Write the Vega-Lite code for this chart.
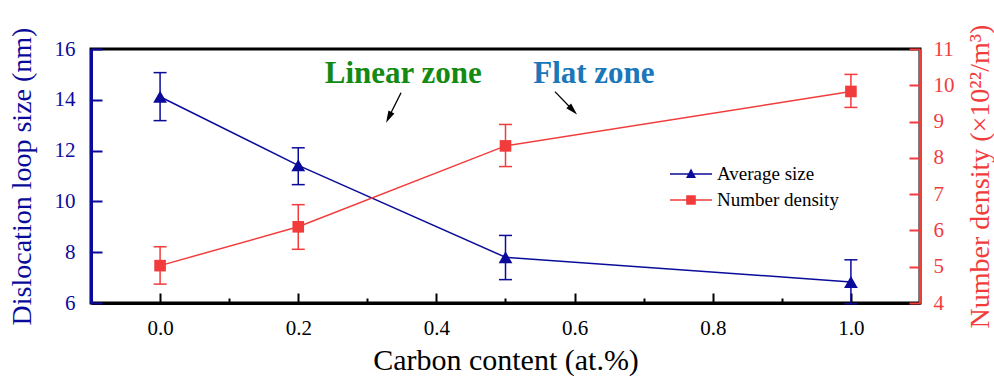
{
  "$schema": "https://vega.github.io/schema/vega-lite/v6.json",
  "width": 829,
  "height": 254,
  "autosize": {"type": "none"},
  "padding": {"left": 91, "top": 49, "right": 74, "bottom": 73},
  "background": "white",
  "config": {
    "font": "Liberation Serif",
    "view": {"stroke": "black", "strokeWidth": 3},
    "axis": {"grid": false, "labelFont": "Liberation Serif", "titleFont": "Liberation Serif", "titleFontWeight": "normal", "labelOverlap": false, "labelFlush": false, "labelBound": false}
  },
  "datasets": {
    "size": [
      {"c": 0.0, "v": 14.12, "lo": 13.18, "hi": 15.07},
      {"c": 0.2, "v": 11.42, "lo": 10.66, "hi": 12.11},
      {"c": 0.5, "v": 7.8, "lo": 6.92, "hi": 8.66},
      {"c": 1.0, "v": 6.83, "lo": 5.97, "hi": 7.7}
    ],
    "density": [
      {"c": 0.0, "v": 5.03, "lo": 4.52, "hi": 5.55},
      {"c": 0.2, "v": 6.1, "lo": 5.48, "hi": 6.71},
      {"c": 0.5, "v": 8.33, "lo": 7.76, "hi": 8.92},
      {"c": 1.0, "v": 9.83, "lo": 9.39, "hi": 10.3}
    ],
    "arrows": [
      {"id": "a", "c": 0.3488, "v": 14.28, "c2": 0.331, "v2": 13.31},
      {"id": "b", "c": 0.5716, "v": 14.32, "c2": 0.5975, "v2": 13.59}
    ],
    "notes": [
      {"id": "linear", "c": 0.352, "v": 14.68, "label": "Linear zone"},
      {"id": "flat", "c": 0.628, "v": 14.68, "label": "Flat zone"}
    ]
  },
  "resolve": {"scale": {"y": "independent"}},
  "layer": [
    {
      "layer": [
        {
          "data": {"name": "size"},
          "mark": {"type": "line", "color": "#0b0b9b", "strokeWidth": 1.5},
          "encoding": {
            "x": {
              "field": "c", "type": "quantitative",
              "scale": {"domain": [-0.1, 1.1], "nice": false, "zero": false},
              "axis": {
                "title": "Carbon content (at.%)",
                "titleFontSize": 30, "titleColor": "black", "titlePadding": 2,
                "values": [0, 0.1, 0.2, 0.3, 0.4, 0.5, 0.6, 0.7, 0.8, 0.9, 1.0],
                "format": ".1f",
                "labelExpr": "abs(datum.value*10 - round(datum.value*10)) < 0.001 && round(datum.value*10) % 2 == 0 ? datum.label : ''",
                "labelOverlap": false,
                "labelFontSize": 21, "labelColor": "black", "labelPadding": 24,
                "domainColor": "black", "domainWidth": 3,
                "tickColor": "black", "tickWidth": 2,
                "tickSize": {"condition": {"test": "abs(datum.value*10 - round(datum.value*10)) < 0.001 && round(datum.value*10) % 2 == 0", "value": -10}, "value": -5}
              }
            },
            "y": {
              "field": "v", "type": "quantitative",
              "scale": {"domain": [6, 16], "nice": false, "zero": false},
              "axis": {
                "title": "Dislocation loop size (nm)",
                "titleFontSize": 28, "titleColor": "#0b0b9b", "titlePadding": 18,
                "values": [6, 7.001, 8, 9.001, 10, 11.001, 12, 13.001, 14, 15.001, 16],
                "format": "d",
                "labelExpr": "abs(datum.value*10 - round(datum.value*10)) < 0.001 && round(datum.value*10) % 2 == 0 ? datum.label : ''",
                "labelOverlap": false,
                "labelFontSize": 21, "labelColor": "#0b0b9b", "labelPadding": 27,
                "domainColor": "#0b0b9b", "domainWidth": 3,
                "tickColor": "#0b0b9b", "tickWidth": 2,
                "tickSize": {"condition": {"test": "abs(datum.value*10 - round(datum.value*10)) < 0.001 && round(datum.value*10) % 2 == 0", "value": -11}, "value": -6}
              }
            }
          }
        },
        {
          "data": {"name": "size"},
          "mark": {"type": "rule", "color": "#0b0b9b", "strokeWidth": 1.5},
          "encoding": {
            "x": {"field": "c", "type": "quantitative"},
            "y": {"field": "lo", "type": "quantitative", "title": "Dislocation loop size (nm)"},
            "y2": {"field": "hi"}
          }
        },
        {
          "data": {"name": "size"},
          "mark": {"type": "point", "shape": "M-1,0H1", "filled": false, "opacity": 1, "color": "#0b0b9b", "strokeWidth": 1.5, "size": 169},
          "encoding": {
            "x": {"field": "c", "type": "quantitative"},
            "y": {"field": "lo", "type": "quantitative", "title": "Dislocation loop size (nm)"}
          }
        },
        {
          "data": {"name": "size"},
          "mark": {"type": "point", "shape": "M-1,0H1", "filled": false, "opacity": 1, "color": "#0b0b9b", "strokeWidth": 1.5, "size": 169},
          "encoding": {
            "x": {"field": "c", "type": "quantitative"},
            "y": {"field": "hi", "type": "quantitative", "title": "Dislocation loop size (nm)"}
          }
        },
        {
          "data": {"name": "size"},
          "mark": {"type": "point", "shape": "triangle-up", "filled": true, "opacity": 1, "color": "#0b0b9b", "size": 190},
          "encoding": {
            "x": {"field": "c", "type": "quantitative"},
            "y": {"field": "v", "type": "quantitative", "title": "Dislocation loop size (nm)"}
          }
        },
        {
          "mark": {"type": "rule", "color": "#ff7f0e", "strokeWidth": 2, "strokeDash": [9, 3, 2, 3]},
          "encoding": {"x": {"datum": 0.5}}
        },
        {
          "data": {"name": "arrows"},
          "mark": {"type": "rule", "color": "black", "strokeWidth": 1.3},
          "encoding": {
            "x": {"field": "c", "type": "quantitative"},
            "y": {"field": "v", "type": "quantitative", "title": "Dislocation loop size (nm)"},
            "x2": {"field": "c2"},
            "y2": {"field": "v2"}
          }
        },
        {
          "data": {"name": "arrows"},
          "transform": [{"filter": "datum.id == 'a'"}],
          "mark": {"type": "point", "shape": "M0,-1L0.55,1L-0.55,1Z", "filled": true, "opacity": 1, "color": "black", "size": 144, "angle": 206.6},
          "encoding": {
            "x": {"field": "c2", "type": "quantitative"},
            "y": {"field": "v2", "type": "quantitative", "title": "Dislocation loop size (nm)"}
          }
        },
        {
          "data": {"name": "arrows"},
          "transform": [{"filter": "datum.id == 'b'"}],
          "mark": {"type": "point", "shape": "M0,-1L0.55,1L-0.55,1Z", "filled": true, "opacity": 1, "color": "black", "size": 144, "angle": 136.3},
          "encoding": {
            "x": {"field": "c2", "type": "quantitative"},
            "y": {"field": "v2", "type": "quantitative", "title": "Dislocation loop size (nm)"}
          }
        },
        {
          "data": {"name": "notes"},
          "transform": [{"filter": "datum.id == 'linear'"}],
          "mark": {"type": "text", "font": "Liberation Serif", "fontSize": 31, "fontWeight": "bold", "color": "#138a13", "align": "center", "baseline": "alphabetic"},
          "encoding": {
            "x": {"field": "c", "type": "quantitative"},
            "y": {"field": "v", "type": "quantitative", "title": "Dislocation loop size (nm)"},
            "text": {"field": "label"}
          }
        },
        {
          "data": {"name": "notes"},
          "transform": [{"filter": "datum.id == 'flat'"}],
          "mark": {"type": "text", "font": "Liberation Serif", "fontSize": 31, "fontWeight": "bold", "color": "#1b77b8", "align": "center", "baseline": "alphabetic"},
          "encoding": {
            "x": {"field": "c", "type": "quantitative"},
            "y": {"field": "v", "type": "quantitative", "title": "Dislocation loop size (nm)"},
            "text": {"field": "label"}
          }
        }
      ]
    },
    {
      "layer": [
        {
          "data": {"name": "density"},
          "mark": {"type": "line", "color": "#f23c3c", "strokeWidth": 1.5},
          "encoding": {
            "x": {"field": "c", "type": "quantitative"},
            "y": {
              "field": "v", "type": "quantitative",
              "scale": {"domain": [4, 11], "nice": false, "zero": false},
              "axis": {
                "orient": "right",
                "title": "Number density (×10²²/m³)",
                "titleAngle": 270, "titleBaseline": "top",
                "titleFontSize": 28, "titleColor": "#f23c3c", "titlePadding": 12,
                "values": [4, 4.5, 5, 5.5, 6, 6.5, 7, 7.5, 8, 8.5, 9, 9.5, 10, 10.5, 11],
                "tickCount": 15,
                "format": "d",
                "labelExpr": "abs(datum.value*10 - round(datum.value*10)) < 0.001 && round(datum.value*10) % 2 == 0 ? datum.label : ''",
                "labelOverlap": false,
                "labelFontSize": 21, "labelColor": "#f23c3c", "labelPadding": 24,
                "domainColor": "#f23c3c", "domainWidth": 3,
                "tickColor": "#f23c3c", "tickWidth": 2,
                "tickSize": {"condition": {"test": "abs(datum.value*10 - round(datum.value*10)) < 0.001 && round(datum.value*10) % 2 == 0", "value": -11}, "value": -5}
              }
            }
          }
        },
        {
          "data": {"name": "density"},
          "mark": {"type": "rule", "color": "#f23c3c", "strokeWidth": 1.5},
          "encoding": {
            "x": {"field": "c", "type": "quantitative"},
            "y": {"field": "lo", "type": "quantitative", "title": "Number density (×10²²/m³)"},
            "y2": {"field": "hi"}
          }
        },
        {
          "data": {"name": "density"},
          "mark": {"type": "point", "shape": "M-1,0H1", "filled": false, "opacity": 1, "color": "#f23c3c", "strokeWidth": 1.5, "size": 169},
          "encoding": {
            "x": {"field": "c", "type": "quantitative"},
            "y": {"field": "lo", "type": "quantitative", "title": "Number density (×10²²/m³)"}
          }
        },
        {
          "data": {"name": "density"},
          "mark": {"type": "point", "shape": "M-1,0H1", "filled": false, "opacity": 1, "color": "#f23c3c", "strokeWidth": 1.5, "size": 169},
          "encoding": {
            "x": {"field": "c", "type": "quantitative"},
            "y": {"field": "hi", "type": "quantitative", "title": "Number density (×10²²/m³)"}
          }
        },
        {
          "data": {"name": "density"},
          "mark": {"type": "point", "shape": "square", "filled": true, "opacity": 1, "color": "#f23c3c", "size": 135},
          "encoding": {
            "x": {"field": "c", "type": "quantitative"},
            "y": {"field": "v", "type": "quantitative", "title": "Number density (×10²²/m³)"}
          }
        },
        {
          "data": {"values": [{"series": "Average size"}, {"series": "Number density"}]},
          "mark": {"type": "point", "filled": true, "opacity": 1, "clip": true, "size": 400},
          "encoding": {
            "x": {"datum": 3},
            "color": {
              "field": "series", "type": "nominal",
              "scale": {"domain": ["Average size", "Number density"], "range": ["#0b0b9b", "#f23c3c"]},
              "legend": {
                "orient": "none", "legendX": 590, "legendY": 115,
                "title": null, "padding": 0,
                "labelFont": "Liberation Serif", "labelFontSize": 19, "labelColor": "black",
                "symbolSize": 400, "labelOffset": 16, "rowPadding": 6,
                "symbolStrokeWidth": 0
              }
            },
            "shape": {
              "field": "series", "type": "nominal",
              "scale": {
                "domain": ["Average size", "Number density"],
                "range": ["M-2.1,-0.08H2.1V0.08H-2.1ZM-0.5,0.4L0,-0.55L0.5,0.4Z", "M-2.1,-0.08H2.1V0.08H-2.1ZM-0.48,-0.48H0.48V0.48H-0.48Z"]
              },
              "legend": {
                "orient": "none", "legendX": 590, "legendY": 115,
                "title": null, "padding": 0,
                "labelFont": "Liberation Serif", "labelFontSize": 19, "labelColor": "black",
                "symbolSize": 400, "labelOffset": 16, "rowPadding": 6,
                "symbolStrokeWidth": 0
              }
            }
          }
        }
      ]
    }
  ]
}
